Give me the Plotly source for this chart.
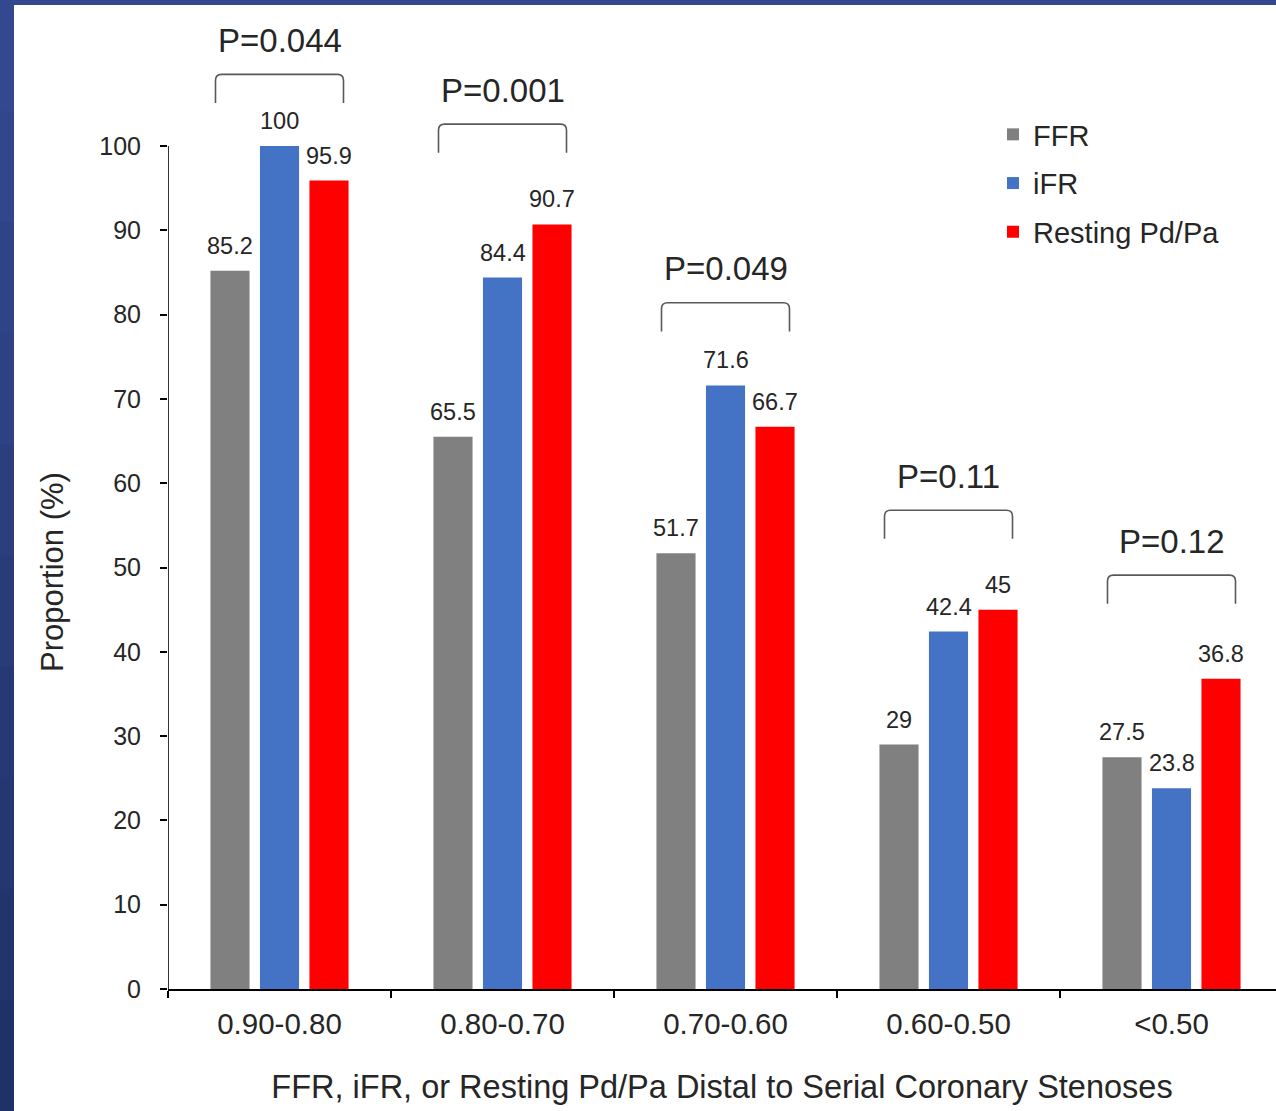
import plotly.graph_objects as go

# ---- data ----
categories = ["0.90-0.80", "0.80-0.70", "0.70-0.60", "0.60-0.50", "<0.50"]
series_names = ["FFR", "iFR", "Resting Pd/Pa"]
ffr = [85.2, 65.5, 51.7, 29, 27.5]
ifr = [100, 84.4, 71.6, 42.4, 23.8]
resting = [95.9, 90.7, 66.7, 45, 36.8]
p_labels = ["P=0.044", "P=0.001", "P=0.049", "P=0.11", "P=0.12"]
bracket_tops = [108.5, 102.6, 81.4, 56.8, 49.1]
y_ticks = list(range(0, 101, 10))

# ---- style ----
colors = ["#808080", "#4472C4", "#FF0000"]
txt = "#262626"
FONT = "Liberation Sans, Arial, sans-serif"
W, H = 1276, 1111
ML, MR, MT, MB = 168, 0, 0, 122
plot_w = W - ML - MR
plot_h = H - MT - MB
px_per_cat = 223.0
px_per_unit = 8.43
x_range = [-0.5, -0.5 + plot_w / px_per_cat]
y_range = [0, plot_h / px_per_unit]
bargap = 0.334
bargroupgap = 0.21
slot = (1 - bargap) / 3

xs = list(range(len(categories)))
series_vals = [ffr, ifr, resting]


def px2paper_x(p):
    return (p - ML) / plot_w


def py2paper_y(p):
    return (H - MB - p) / plot_h


fig = go.Figure()
for name, vals, col in zip(series_names, series_vals, colors):
    fig.add_trace(go.Bar(
        x=xs, y=vals, name=name, marker=dict(color=col, line=dict(width=0)),
        legendgroup=name, hoverinfo="skip",
    ))

annotations = []
# value labels
for i, vals in enumerate(series_vals):
    for j, v in enumerate(vals):
        annotations.append(dict(
            x=j + (i - 1) * slot, y=v, xref="x", yref="y",
            text=f"{v:g}", showarrow=False, yanchor="bottom", yshift=10,
            font=dict(family=FONT, size=23.5, color=txt),
        ))

shapes = []
# p-value brackets
half = 0.287
leg_h = 3.4
rx = 6 / px_per_cat
ry = 6 / px_per_unit
for j, (lab, top) in enumerate(zip(p_labels, bracket_tops)):
    x0, x1 = j - half, j + half
    path = (f"M {x0},{top - leg_h} L {x0},{top - ry} Q {x0},{top} {x0 + rx},{top} "
            f"L {x1 - rx},{top} Q {x1},{top} {x1},{top - ry} L {x1},{top - leg_h}")
    shapes.append(dict(type="path", path=path, xref="x", yref="y",
                       line=dict(color="#595959", width=1.6)))
    annotations.append(dict(
        x=j, y=top, xref="x", yref="y", text=lab, showarrow=False,
        yanchor="middle", yshift=34,
        font=dict(family=FONT, size=33, color=txt),
    ))

# y axis title (centred on the 0-100 span)
annotations.append(dict(
    x=px2paper_x(52), y=py2paper_y(572), xref="paper", yref="paper",
    text="Proportion (%)", textangle=-90, showarrow=False,
    xanchor="center", yanchor="middle",
    font=dict(family=FONT, size=31, color=txt),
))

# y axis line (0 to 100 only)
shapes.append(dict(type="line", xref="x", yref="y", x0=x_range[0], x1=x_range[0],
                   y0=0, y1=100, line=dict(color="black", width=1.6)))

# blue slide border (top + left)
shapes.append(dict(type="rect", xref="paper", yref="paper", layer="above",
                   x0=px2paper_x(0), x1=px2paper_x(W), y0=py2paper_y(5), y1=py2paper_y(0),
                   fillcolor="#33498f", line=dict(width=0)))
steps = 10
c_top = (0x34, 0x48, 0x90)
c_bot = (0x1f, 0x32, 0x68)
for k in range(steps):
    t = k / (steps - 1)
    c = tuple(int(round(a + (b - a) * t)) for a, b in zip(c_top, c_bot))
    shapes.append(dict(type="rect", xref="paper", yref="paper", layer="above",
                       x0=px2paper_x(0), x1=px2paper_x(14),
                       y0=py2paper_y(H * (k + 1) / steps + 1), y1=py2paper_y(H * k / steps),
                       fillcolor="rgb(%d,%d,%d)" % c, line=dict(width=0)))

fig.update_layout(
    width=W, height=H,
    margin=dict(l=ML, r=MR, t=MT, b=MB, pad=0),
    paper_bgcolor="white", plot_bgcolor="white",
    barmode="group", bargap=bargap, bargroupgap=bargroupgap,
    font=dict(family=FONT, color=txt),
    showlegend=True,
    legend=dict(
        x=px2paper_x(993), y=py2paper_y(109), xanchor="left", yanchor="top",
        font=dict(family=FONT, size=29, color=txt),
        bgcolor="rgba(0,0,0,0)", traceorder="grouped", tracegroupgap=8,
        itemwidth=30,
    ),
    xaxis=dict(
        range=x_range, tickmode="array", tickvals=xs, ticktext=categories,
        ticks="", showline=True, linecolor="black", linewidth=1.6,
        showgrid=False, zeroline=False,
        tickfont=dict(family=FONT, size=29.5, color=txt),
        ticklabelstandoff=8,
        minor=dict(ticks="outside", tick0=-0.5, dtick=1, ticklen=7,
                   tickcolor="black", tickwidth=1.6, showgrid=False),
        title=dict(text="FFR, iFR, or Resting Pd/Pa Distal to Serial Coronary Stenoses",
                   font=dict(family=FONT, size=32.5, color=txt), standoff=36),
    ),
    yaxis=dict(
        range=y_range, tickmode="array", tickvals=y_ticks,
        ticks="outside", ticklen=7, tickcolor="black", tickwidth=1.6,
        showline=False, showgrid=False, zeroline=False,
        tickfont=dict(family=FONT, size=25, color=txt),
        ticklabelstandoff=14,
    ),
    shapes=shapes,
    annotations=annotations,
)

fig.write_html("out.html", config={"displayModeBar": False},
               post_script="document.body.style.margin='0';")
